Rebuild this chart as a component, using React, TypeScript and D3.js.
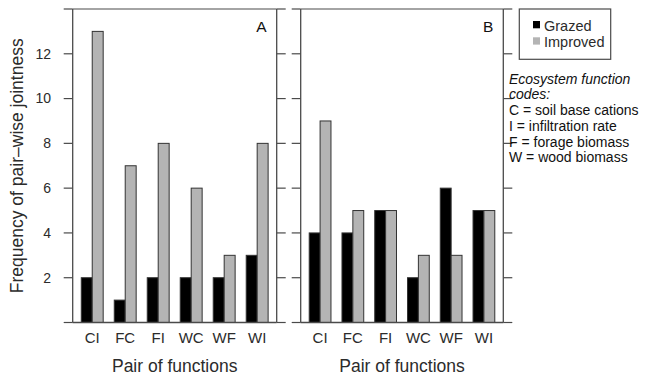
import * as d3 from 'd3';

const pairs = ['CI', 'FC', 'FI', 'WC', 'WF', 'WI'];
const series = ['Grazed', 'Improved'];
const grazedA = [2, 1, 2, 2, 2, 3];
const improvedA = [13, 7, 8, 6, 3, 8];
const grazedB = [4, 4, 5, 2, 6, 5];
const improvedB = [9, 5, 5, 3, 3, 5];
const codeLines = [
    'C = soil base cations',
    'I = infiltration rate',
    'F = forage biomass',
    'W = wood biomass'
];

const W = 645;
const H = 377;
const top = 9;
const bottom = 322.5;
const tickLen = 9;
const font = '"Liberation Sans", Arial, Helvetica, sans-serif';
const axisColor = '#4a4a4a';
const textColor = '#2b2b2b';
const grey = '#b4b4b4';
const fills: Record<string, string> = { Grazed: '#000', Improved: grey };

const y = d3.scaleLinear().domain([0, 14]).range([bottom, top]);
const yTicks = d3.range(0, 15, 2);

type PanelProps = {
    x0: number;
    x1: number;
    label: string;
    grazed: number[];
    improved: number[];
};

function Panel({ x0, x1, label, grazed, improved }: PanelProps) {
    const x = d3.scaleBand<string>()
        .domain(pairs)
        .range([x0, x1])
        .paddingInner(0.336)
        .paddingOuter(0.26);
    const xs = d3.scaleBand<string>().domain(series).range([0, x.bandwidth()]);
    const rows = pairs.map((p, i) => ({ pair: p, Grazed: grazed[i], Improved: improved[i] }));

    return (
        <g>
            {/* ticks on both sides, the 0 and 14 ticks run across as the frame */}
            {yTicks.map(t => (
                <g key={t}>
                    <line x1={x0 - tickLen} x2={x0} y1={y(t)} y2={y(t)} stroke={axisColor} strokeWidth={1.2} />
                    <line x1={x1} x2={x1 + tickLen} y1={y(t)} y2={y(t)} stroke={axisColor} strokeWidth={1.2} />
                </g>
            ))}
            <line x1={x0} x2={x1} y1={y(14)} y2={y(14)} stroke={axisColor} strokeWidth={1.2} />
            <line x1={x0} x2={x0} y1={top} y2={bottom} stroke={axisColor} strokeWidth={1.3} />
            <line x1={x1} x2={x1} y1={top} y2={bottom} stroke={axisColor} strokeWidth={1.3} />

            {rows.map(r => (
                <g key={r.pair}>
                    {series.map(s => (
                        <rect
                            key={s}
                            x={(x(r.pair) || 0) + (xs(s) || 0)}
                            y={y((r as any)[s])}
                            width={xs.bandwidth()}
                            height={y(0) - y((r as any)[s])}
                            fill={fills[s]}
                            stroke="#333"
                            strokeWidth={1}
                        />
                    ))}
                    <text
                        x={(x(r.pair) || 0) + x.bandwidth() / 2}
                        y={343}
                        textAnchor="middle"
                        fontSize={15}
                        fill={textColor}
                    >
                        {r.pair}
                    </text>
                </g>
            ))}
            <line x1={x0} x2={x1} y1={y(0)} y2={y(0)} stroke={axisColor} strokeWidth={1.3} />

            <text x={x1 - 10} y={32} textAnchor="end" fontSize={15.5} fill="#111">{label}</text>
            <text x={(x0 + x1) / 2} y={372} textAnchor="middle" fontSize={17.5} fill={textColor}>
                Pair of functions
            </text>
        </g>
    );
}

export default function App() {
    const ax0 = 72.7, ax1 = 276.7, bx0 = 300.7, bx1 = 503.3;
    return (
        <svg
            width={W}
            height={H}
            style={{ position: 'absolute', left: 0, top: 0, background: '#fff' }}
            fontFamily={font}
        >
            <Panel x0={ax0} x1={ax1} label="A" grazed={grazedA} improved={improvedA} />
            <Panel x0={bx0} x1={bx1} label="B" grazed={grazedB} improved={improvedB} />

            {yTicks.filter(t => t > 0 && t < 14).map(t => (
                <text key={t} x={51} y={y(t)} dy="0.35em" textAnchor="end" fontSize={14} fill={textColor}>{t}</text>
            ))}
            <text
                transform={`translate(23,${(top + bottom) / 2}) rotate(-90)`}
                textAnchor="middle"
                fontSize={17.5}
                fill={textColor}
            >
                Frequency of pair–wise jointness
            </text>

            {/* legend */}
            <rect x={519.3} y={9} width={91.4} height={50.3} fill="none" stroke={axisColor} strokeWidth={1.2} />
            {series.map((s, i) => (
                <g key={s}>
                    <rect x={533} y={21 + i * 16.3} width={7} height={7.3} fill={fills[s]} />
                    <text x={544} y={31 + i * 15.5} fontSize={14.5} fill={textColor}>{s}</text>
                </g>
            ))}

            <text x={509} y={84} fontSize={14} fontStyle="italic" fill="#111">Ecosystem function</text>
            <text x={509} y={98.5} fontSize={14} fontStyle="italic" fill="#111">codes:</text>
            {codeLines.map((l, i) => (
                <text key={l} x={509} y={115 + i * 15.8} fontSize={14} fill="#111">{l}</text>
            ))}
        </svg>
    );
}
